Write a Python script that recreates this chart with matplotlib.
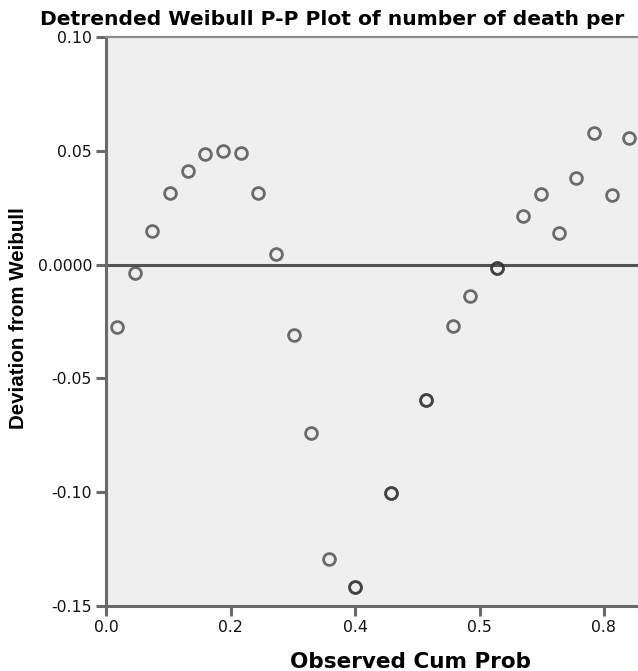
import matplotlib
matplotlib.use("Agg")
import matplotlib.pyplot as plt

# ---- data ----
observed_cum_prob = [0.0177, 0.0461, 0.0745, 0.1028, 0.1312, 0.1596, 0.1880, 0.2163,
                     0.2447, 0.2730, 0.3014, 0.3298, 0.3582, 0.4007, 0.4007, 0.4574,
                     0.4574, 0.5142, 0.5142, 0.5567, 0.5851, 0.6277, 0.6277, 0.6702,
                     0.6986, 0.7270, 0.7553, 0.7837, 0.8121, 0.8404]
deviation = [-0.0274, -0.0037, 0.0146, 0.0316, 0.0410, 0.0487, 0.0499, 0.0490,
             0.0314, 0.0045, -0.0310, -0.0742, -0.1295, -0.1415, -0.1415, -0.1005,
             -0.1005, -0.0593, -0.0593, -0.0270, -0.0139, -0.0015, -0.0015, 0.0213,
             0.0309, 0.0139, 0.0380, 0.0578, 0.0307, 0.0556]
x_ticks = [0.0, 0.2, 0.4, 0.6, 0.8]
x_tick_labels = ["0.0", "0.2", "0.4", "0.5", "0.8"]
y_ticks = [0.10, 0.05, 0.0, -0.05, -0.10, -0.15]
y_tick_labels = ["0.10", "0.05", "0.0000", "-0.05", "-0.10", "-0.15"]
title = "Detrended Weibull P-P Plot of number of death per"
x_label = "Observed Cum Prob"
y_label = "Deviation from Weibull"

W, H = 638, 671
fig = plt.figure(figsize=(W / 100, H / 100), dpi=100)
fig.patch.set_facecolor("white")

left_px, right_px, top_px, bottom_px = 106, 728.5, 37, 606
ax = fig.add_axes([left_px / W, 1 - bottom_px / H,
                   (right_px - left_px) / W, (bottom_px - top_px) / H])
ax.set_facecolor("#efefef")
ax.set_xlim(0, 1)
ax.set_ylim(-0.15, 0.10)

spine_c = "#6a6a6a"
for s in ["left", "bottom", "top", "right"]:
    ax.spines[s].set_color(spine_c)
    ax.spines[s].set_linewidth(2.2)
ax.spines["top"].set_color("#8a8a8a")
ax.spines["top"].set_linewidth(1.6)

ax.axhline(0, color="#555555", lw=2.2, zorder=2)

ax.plot(observed_cum_prob, deviation, linestyle="none", marker="o",
        markersize=8.5, markerfacecolor="none", markeredgecolor="#333333",
        markeredgewidth=2.0, alpha=0.7, zorder=3)

tick_family = ["DejaVu Sans"]
ax.set_xticks(x_ticks)
ax.set_xticklabels(x_tick_labels, family=tick_family, fontsize=11.3)
ax.set_yticks(y_ticks)
ax.set_yticklabels(y_tick_labels, family=tick_family, fontsize=11.3)
ax.tick_params(axis="both", direction="out", length=7, width=2.2,
               color=spine_c, labelcolor="#111111", pad=3)

fig.text(40 / W, 1 - 25 / H, title, ha="left", va="baseline",
         family=["DejaVu Sans"], fontweight="bold", fontsize=14.6, color="black")
fig.text(411 / W, 1 - 668 / H, x_label, ha="center", va="baseline",
         family=["DejaVu Sans"], fontweight="bold", fontsize=15.5, color="black")
fig.text(19 / W, 1 - 318 / H, y_label, ha="center", va="center", rotation=90,
         family=["Liberation Sans", "DejaVu Sans"], fontweight="bold", fontsize=14.8,
         color="black")

fig.savefig("out.png", dpi=100)
